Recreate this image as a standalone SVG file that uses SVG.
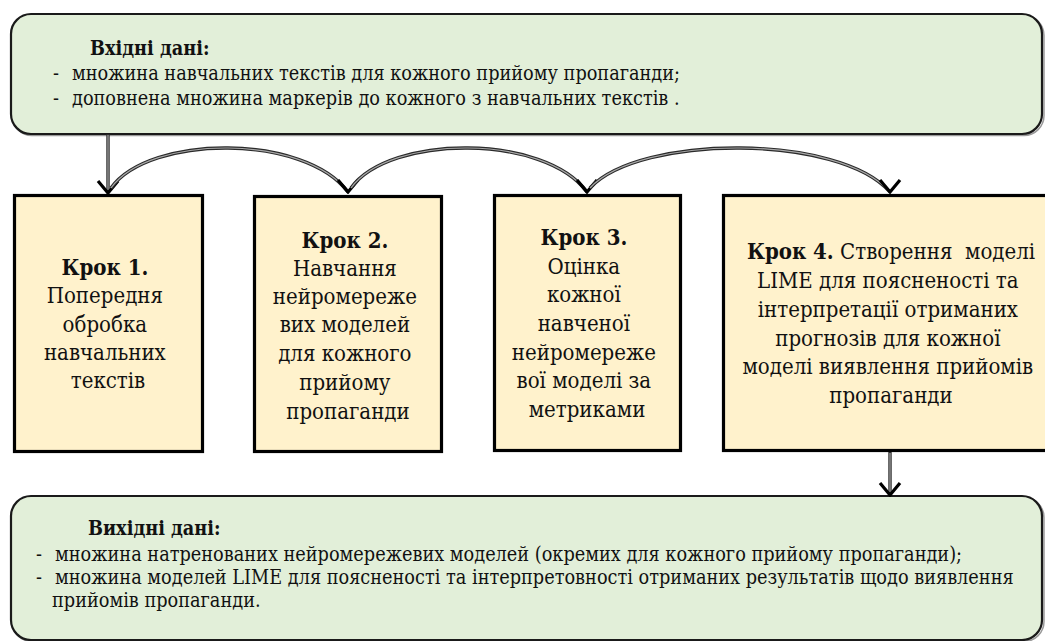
<svg xmlns="http://www.w3.org/2000/svg" width="1045" height="641" viewBox="0 0 1045 641">
  <style>
    .panel { fill: #E2EFD9; stroke: #1a1a1a; stroke-width: 2.2; }
    .shadow { fill: none; stroke: #9a9a9a; stroke-width: 1.5; }
    .step { fill: #FFF2CC; stroke: #000; stroke-width: 3.2; }
    .t { font-family: "DejaVu Serif", serif; font-stretch: condensed; fill: #111; }
    .io { font-size: 19.7px; }
    .st { font-size: 22px; text-anchor: middle; }
    .b { font-weight: bold; }
    .lineOut { fill: none; stroke: #2a2a2a; stroke-width: 3.4; }
    .lineIn { fill: none; stroke: #a8a8a8; stroke-width: 1.2; }
  </style>
  <defs>
    <marker id="head" viewBox="-14 -13 16 26" markerWidth="16" markerHeight="26" refX="0" refY="0" orient="90" markerUnits="userSpaceOnUse">
      <path d="M-12,-10 L0,0 L-12,10" fill="none" stroke="#000" stroke-width="3.2" stroke-linejoin="miter"/>
    </marker>
  </defs>

  <g id="input">
    <rect class="shadow" x="12" y="15.5" width="1032" height="120" rx="20"/>
    <rect class="panel" x="11" y="14" width="1031" height="120" rx="20"/>
    <text class="t io b" x="90" y="55">Вхідні дані:</text>
    <text class="t io" x="53" y="80">-</text>
    <text class="t io" x="72" y="80">множина навчальних текстів для кожного прийому пропаганди;</text>
    <text class="t io" x="53" y="105">-</text>
    <text class="t io" x="72" y="105">доповнена множина маркерів до кожного з навчальних текстів .</text>
  </g>

  <g id="step1">
    <rect class="step" x="14.5" y="195.5" width="188" height="256"/>
    <text class="t st" x="108">
      <tspan class="b" x="108" y="275">Крок 1.</tspan>
      <tspan x="108" y="303">Попередня</tspan>
      <tspan x="108" y="332">обробка</tspan>
      <tspan x="108" y="360">навчальних</tspan>
      <tspan x="108" y="388">текстів</tspan>
    </text>
  </g>

  <g id="step2">
    <rect class="step" x="254.5" y="196.5" width="187" height="255"/>
    <text class="t st">
      <tspan class="b" x="348" y="248">Крок 2.</tspan>
      <tspan x="348" y="276">Навчання</tspan>
      <tspan x="348" y="304">нейромереже</tspan>
      <tspan x="348" y="332">вих моделей</tspan>
      <tspan x="348" y="361">для кожного</tspan>
      <tspan x="348" y="390">прийому</tspan>
      <tspan x="348" y="419">пропаганди</tspan>
    </text>
  </g>

  <g id="step3">
    <rect class="step" x="494.5" y="195.5" width="186" height="255"/>
    <text class="t st">
      <tspan class="b" x="587" y="245">Крок 3.</tspan>
      <tspan x="587" y="274">Оцінка</tspan>
      <tspan x="587" y="302">кожної</tspan>
      <tspan x="587" y="331">навченої</tspan>
      <tspan x="587" y="360">нейромереже</tspan>
      <tspan x="587" y="388">вої моделі за</tspan>
      <tspan x="587" y="417">метриками</tspan>
    </text>
  </g>

  <g id="step4">
    <rect class="step" x="723.5" y="195.5" width="340" height="255"/>
    <text class="t st" x="891" y="259"><tspan class="b">Крок 4.</tspan> Створення&#160; моделі</text>
    <text class="t st">
      <tspan x="891" y="288">LIME для поясненості та</tspan>
      <tspan x="891" y="317">інтерпретації отриманих</tspan>
      <tspan x="891" y="346">прогнозів для кожної</tspan>
      <tspan x="891" y="374">моделі виявлення прийомів</tspan>
      <tspan x="891" y="403">пропаганди</tspan>
    </text>
  </g>

  <g id="output">
    <rect class="shadow" x="12" y="497.5" width="1032" height="144" rx="20"/>
    <rect class="panel" x="11" y="496" width="1031" height="144" rx="20"/>
    <text class="t io b" x="88" y="535">Вихідні дані:</text>
    <text class="t io" x="36" y="561">-</text>
    <text class="t io" x="55" y="561">множина натренованих нейромережевих моделей (окремих для кожного прийому пропаганди);</text>
    <text class="t io" x="36" y="584">-</text>
    <text class="t io" x="55" y="584">множина моделей LIME для поясненості та інтерпретовності отриманих результатів щодо виявлення</text>
    <text class="t io" x="52" y="607">прийомів пропаганди.</text>
  </g>

  <g id="connectors">
    <path class="lineOut" d="M108,134 L108,192"/>
    <path class="lineIn" d="M108,135 L108,190"/>
    <path d="M108,134 L108,193" fill="none" stroke="none" marker-end="url(#head)"/>

    <path class="lineOut" d="M111,188 C150,134 305,134 348,192"/>
    <path class="lineIn" d="M111,188 C150,134 305,134 348,192" marker-end="url(#head)"/>

    <path class="lineOut" d="M351,188 C390,134 545,134 587,192"/>
    <path class="lineIn" d="M351,188 C390,134 545,134 587,192" marker-end="url(#head)"/>

    <path class="lineOut" d="M590,188 C640,134 840,134 890,192"/>
    <path class="lineIn" d="M590,188 C640,134 840,134 890,192" marker-end="url(#head)"/>

    <path class="lineOut" d="M890,452 L890,494"/>
    <path class="lineIn" d="M890,453 L890,492"/>
    <path d="M890,452 L890,495" fill="none" stroke="none" marker-end="url(#head)"/>
  </g>
</svg>
